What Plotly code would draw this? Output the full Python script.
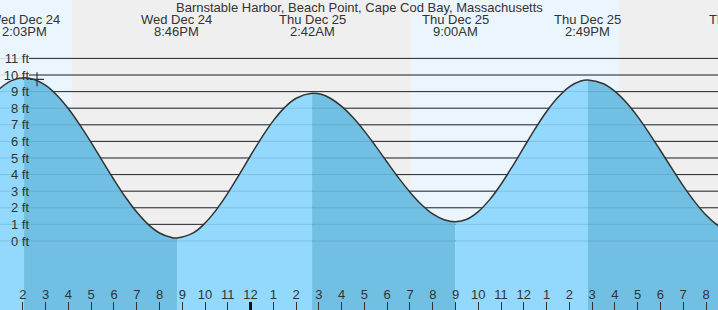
import plotly.graph_objects as go

# ---------------- data ----------------
title_text = "Barnstable Harbor, Beach Point, Cape Cod Bay, Massachusetts"

# hours relative to midnight (start of Thu Dec 25); tide height in feet
curve_hours = [-12, -11.5, -11, -10.5, -9.95, -9.5, -9, -8.5, -8, -7.5, -7, -6.5, -6, -5.5,
               -5, -4.5, -4, -3.5, -3.233, -2.5, -2, -1.5, -1, -0.5, 0, 0.5, 1, 1.5, 2,
               2.7, 3.1, 3.5, 4, 4.5, 5, 5.5, 6, 6.5, 7, 7.5, 8, 8.5, 9.0, 9.5, 10, 10.5,
               11, 11.5, 12, 12.5, 13, 13.5, 14, 14.5, 14.817, 15.5, 16, 16.5, 17, 17.5,
               18, 18.5, 19, 19.5, 20, 20.5, 21, 21.55]
curve_feet = [7.54, 8.49, 9.20, 9.66, 9.84, 9.73, 9.37, 8.77, 7.97, 7.00, 5.93, 4.80, 3.69,
              2.65, 1.74, 1.00, 0.48, 0.22, 0.18, 0.50, 1.08, 1.89, 2.88, 4.00, 5.15, 6.26,
              7.25, 8.05, 8.60, 8.90, 8.84, 8.60, 8.11, 7.44, 6.62, 5.70, 4.74, 3.80, 2.94,
              2.20, 1.63, 1.28, 1.16, 1.31, 1.77, 2.49, 3.42, 4.50, 5.64, 6.77, 7.80, 8.66,
              9.29, 9.64, 9.70, 9.47, 9.01, 8.34, 7.49, 6.50, 5.45, 4.37, 3.32, 2.37, 1.56,
              0.95, 0.55, 0.40]

# high / low tide events
event_hours = [-9.95, -3.233, 2.7, 9.0, 14.817, 21.6]
event_dates = ["Wed Dec 24", "Wed Dec 24", "Thu Dec 25", "Thu Dec 25", "Thu Dec 25", "Thu Dec 25"]
event_times = ["2:03PM", "8:46PM", "2:42AM", "9:00AM", "2:49PM", "9:35PM"]

# daylight spans (sunrise, sunset) in hours
day_spans = [(-12.0, -7.84), (7.03, 16.18)]

# current time marker
now_hour = -9.38
now_feet = 9.74

# axes
x_range = [-11.006, 20.527]
y_range = [-4.16, 14.52]
tick_hours = list(range(-11, 21))
tick_labels = ["1", "2", "3", "4", "5", "6", "7", "8", "9", "10", "11", "12",
               "1", "2", "3", "4", "5", "6", "7", "8", "9", "10", "11", "12",
               "1", "2", "3", "4", "5", "6", "7", "8"]
midnight_hours = [0]
feet_ticks = list(range(0, 12))
feet_labels = [f"{v} ft" for v in feet_ticks]

# ---------------- style ----------------
FONT = "Liberation Sans, Arial, sans-serif"
TXT = "#333333"
NIGHT = "#efefef"
DAY = "#eaf5fe"
WATER_RISE = "#93d9fd"
WATER_FALL = "#71c0e3"
Y_FLOOR = -10

fig = go.Figure()

# water fills, split at highs/lows
bounds = [curve_hours[0]] + [h for h in event_hours if h < curve_hours[-1]] + [curve_hours[-1]]
for i in range(len(bounds) - 1):
    a, b = bounds[i], bounds[i + 1]
    seg = [(h, f) for h, f in zip(curve_hours, curve_feet) if a <= h <= b]
    rising = seg[-1][1] > seg[0][1]
    fig.add_trace(go.Scatter(x=[a, b], y=[Y_FLOOR, Y_FLOOR], mode="lines",
                             line=dict(width=0), hoverinfo="skip", showlegend=False))
    fig.add_trace(go.Scatter(x=[p[0] for p in seg], y=[p[1] for p in seg], mode="lines",
                             line=dict(width=0, shape="spline"), fill="tonexty",
                             fillcolor=WATER_RISE if rising else WATER_FALL,
                             hoverinfo="skip", showlegend=False))

# outline
fig.add_trace(go.Scatter(x=curve_hours, y=curve_feet, mode="lines",
                         line=dict(color="#333333", width=1.5, shape="spline"),
                         hoverinfo="skip", showlegend=False))

# current time marker
fig.add_trace(go.Scatter(x=[now_hour], y=[now_feet], mode="markers",
                         marker=dict(symbol="cross-thin", size=10,
                                     line=dict(color="#333333", width=1.2)),
                         hoverinfo="skip", showlegend=False))

shapes = []
for s, e in day_spans:
    shapes.append(dict(type="rect", xref="x", yref="paper", x0=s, x1=e, y0=0, y1=1,
                       fillcolor=DAY, line=dict(width=0), layer="below"))
for v in feet_ticks:
    shapes.append(dict(type="line", xref="paper", yref="y", x0=0.0404, x1=1, y0=v, y1=v,
                       line=dict(color="#2a2a2a", width=1), layer="below"))
    shapes.append(dict(type="line", xref="paper", yref="y", x0=0, x1=1, y0=v, y1=v,
                       line=dict(color="rgba(0,40,80,0.13)", width=1), layer="above"))

annotations = [dict(text=title_text, xref="paper", yref="paper", x=0.5, y=1 - 7 / 310,
                    xanchor="center", yanchor="middle", showarrow=False,
                    font=dict(size=13, color=TXT, family=FONT))]
for h, d, t in zip(event_hours, event_dates, event_times):
    if x_range[0] <= h <= x_range[1]:
        ref, xpos = "x", h
    else:
        ref, xpos = "paper", (h - x_range[0]) / (x_range[1] - x_range[0])
    annotations.append(dict(text=d, xref=ref, yref="paper", x=xpos, y=1 - 19.5 / 310,
                            xanchor="center", yanchor="middle", showarrow=False,
                            font=dict(size=13, color=TXT, family=FONT)))
    annotations.append(dict(text=t, xref=ref, yref="paper", x=xpos, y=1 - 31.5 / 310,
                            xanchor="center", yanchor="middle", showarrow=False,
                            font=dict(size=13, color=TXT, family=FONT)))

fig.update_layout(
    width=718, height=310, margin=dict(l=0, r=0, t=0, b=0),
    paper_bgcolor="white", plot_bgcolor=NIGHT, showlegend=False,
    font=dict(family=FONT, size=13, color=TXT),
    shapes=shapes, annotations=annotations,
    xaxis=dict(range=x_range, tickvals=tick_hours, ticktext=tick_labels,
               ticks="inside", ticklen=8, tickwidth=1, tickcolor="#333333",
               ticklabelposition="inside", showgrid=False, zeroline=False,
               showline=False, tickfont=dict(size=13, color=TXT, family=FONT),
               fixedrange=True),
    xaxis2=dict(range=x_range, overlaying="x", anchor="y", side="bottom",
                tickvals=midnight_hours, ticks="inside", ticklen=8, tickwidth=2.5,
                tickcolor="#111111", showticklabels=False, showgrid=False,
                zeroline=False, showline=False, fixedrange=True),
    yaxis=dict(range=y_range, visible=False, fixedrange=True),
    yaxis2=dict(range=y_range, overlaying="y", anchor="free", position=0.0404,
                side="left", tickvals=feet_ticks, ticktext=feet_labels, ticks="",
                showgrid=False, zeroline=False, showline=False,
                tickfont=dict(size=13, color=TXT, family=FONT), fixedrange=True),
)
# dummy trace so xaxis2 / yaxis2 render
fig.add_trace(go.Scatter(x=[None], y=[None], xaxis="x2", yaxis="y2", showlegend=False,
                         hoverinfo="skip"))

fig.write_html("out.html")
